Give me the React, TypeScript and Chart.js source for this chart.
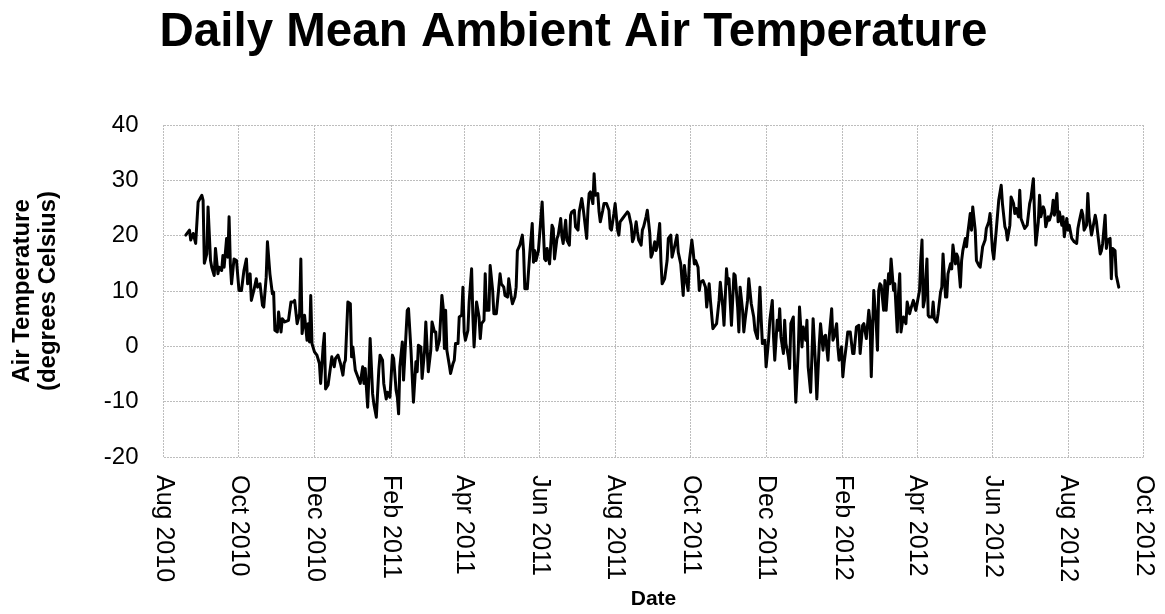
import React, { useEffect, useRef } from "react";
import { Chart, registerables } from "chart.js";

Chart.register(...registerables);

const chartTitle = "Daily Mean Ambient Air Temperature";
const yAxisTitle = ["Air Temperature", "(degrees Celsius)"];
const xAxisTitle = "Date";

// x axis: days since 2010-08-01
const axisStart = "2010-08-01";
const tickDates = [
  "2010-08-01", "2010-10-01", "2010-12-01", "2011-02-01", "2011-04-01", "2011-06-01", "2011-08-01",
  "2011-10-01", "2011-12-01", "2012-02-01", "2012-04-01", "2012-06-01", "2012-08-01", "2012-10-01",
];
const tickLabels = [
  "Aug 2010", "Oct 2010", "Dec 2010", "Feb 2011", "Apr 2011", "Jun 2011", "Aug 2011",
  "Oct 2011", "Dec 2011", "Feb 2012", "Apr 2012", "Jun 2012", "Aug 2012", "Oct 2012",
];
const yMin = -20;
const yMax = 40;
const yStep = 10;

// observations: day offset from 2010-08-01 and daily mean temperature (°C)
const daysA = [18,21,22,24,26,28,31,32,33,35,36,38,39,41,42,44,45,47,48,49,51,52,53,54,55,57,59,61,63,65,67,68,70,71,73,75,76,78,80,81,83,84,86,88,89,90,92,93,95,96,98,101,103,105];
const tempsA = [20.1,21.0,19.2,20.4,18.6,26.1,27.3,26.4,15.0,16.7,25.2,15.5,14.3,12.8,17.7,13.1,14.3,13.7,16.4,14.3,19.5,16.1,23.4,15.0,11.3,15.8,15.5,10.1,10.1,13.7,15.8,11.3,13.1,8.3,10.1,12.2,10.7,11.3,7.4,7.1,12.5,18.9,13.1,9.5,9.8,2.9,2.6,6.2,2.6,5.0,4.4,4.7,8.0,8.0];

const daysB = [106,108,110,111,112,114,116,117,118,119,120,122,124,126,127,129,130,131,133,135,136,138,139,141,143,145,146,147,149,151,152,153,155,157,159,161,162,163,165,166,167,169,170,172,174,175,177,178,180,181,183,185,186,188,189,190,191,193,194,197,198,200];
const tempsB = [8.3,4.1,5.9,15.8,2.3,5.6,1.1,4.1,0.8,9.2,0.5,-1.0,-1.6,-3.1,-6.7,-0.1,2.3,-7.7,-7.0,-3.7,-1.9,-3.7,-2.2,-1.6,-3.1,-5.2,-3.1,-2.5,8.0,7.7,-1.9,-0.1,-4.3,-5.5,-6.7,-3.7,-6.7,-4.0,-11.0,-5.5,1.4,-8.6,-10.4,-12.8,-4.3,-1.6,-2.5,-6.7,-9.5,-8.3,-9.2,-1.6,-2.2,-8.0,-9.2,-12.2,-3.7,0.8,-6.1,6.5,6.8,-0.7];

const daysC = [202,204,205,206,208,209,211,212,214,216,217,219,220,221,223,225,226,227,228,229,231,232,234,235,236,238,239,241,242,243,244,246,247,249,250,251,253,255,256,257,259,260,261,263,264,266,267,269,270,272,273,275,276,278,279,281,282,284,285,286,288,290,291,292,294];
const tempsC = [-10.1,-2.8,-4.6,0.2,-0.1,-5.8,-0.7,4.4,-4.6,-0.7,4.4,2.6,2.6,-0.7,1.1,9.2,7.1,-0.4,6.5,-0.7,-3.4,-4.9,-3.1,-2.5,0.5,0.5,5.3,5.6,10.7,2.6,1.1,2.9,8.0,14.0,5.6,-0.1,8.0,5.3,1.4,4.1,4.7,13.1,6.5,6.5,14.6,10.1,5.9,5.9,8.3,13.1,11.3,10.7,9.2,8.9,12.2,8.9,7.7,8.9,10.7,17.3,18.3,20.1,17.3,10.4,10.4];

const daysD = [296,298,299,300,301,303,306,308,309,310,312,314,315,316,318,319,321,322,323,325,326,328,329,330,332,333,335,336,338,339,340,342,343,344,345,347,348,349,351,352,353,355,356,358,360,361,362,364,365,367,368,369,371,373,375,376,378,379,380,382,383,384,386,387,388,390];
const tempsD = [16.7,22.2,15.2,17.3,15.5,17.3,26.1,15.8,15.5,17.7,14.9,21.9,21.3,15.8,19.5,20.1,23.1,19.8,18.6,22.8,19.2,18.3,23.7,24.3,24.6,21.6,21.0,24.3,26.7,25.2,23.4,19.5,24.6,27.6,27.9,25.8,31.2,27.3,27.6,24.3,22.5,24.6,25.8,25.8,24.6,21.3,21.0,24.0,25.8,21.0,20.1,22.5,23.1,23.7,24.3,24.0,21.9,18.9,19.5,22.5,20.7,19.2,18.3,21.0,21.6,23.4];

const daysE = [391,393,394,395,397,398,399,401,402,403,405,407,408,410,411,413,415,416,418,420,421,422,424,425,427,428,429,430,432,433,434,436,438,439,441,442,444,445,447,449,450,452,453,455,456,457,459,461,462,464,465,466,468,469,470,472,473,475,477,478,480,482,483,484];
const tempsE = [24.6,20.4,16.1,16.7,18.9,17.3,18.0,22.2,15.5,11.3,12.2,15.5,19.5,20.1,16.1,18.0,20.1,17.0,14.9,9.2,14.6,12.5,10.1,15.5,19.2,17.3,14.9,15.5,14.3,10.1,11.6,11.9,10.7,7.1,11.3,8.3,3.2,3.5,4.1,8.3,11.6,7.1,3.8,14.0,11.3,12.2,3.8,13.1,12.8,7.1,2.6,10.7,6.5,2.6,4.7,8.3,12.2,7.7,5.3,2.9,1.4,10.7,5.0,0.5];

const daysF = [486,487,489,490,492,493,494,496,497,498,499,501,502,503,505,506,507,509,510,511,513,514,515,516,517,519,520,521,523,524,525,527,528,529,530,531,533,534,535,537,538,540,541,542,544,545,546,548,549,550,552,553,555,557,558,560,562,563,565,566,568,570,571,572,574,576,577,578];
const tempsF = [1.1,-3.7,1.1,4.7,8.3,1.7,-2.5,4.7,2.9,6.8,1.7,-1.3,4.7,0.5,-1.9,-4.0,4.1,5.3,-3.7,-10.1,-0.7,7.1,3.5,-0.1,3.5,1.1,4.7,-3.7,-8.3,-1.9,5.0,-3.7,-9.5,-4.3,0.5,4.1,-0.7,1.7,2.0,-2.5,1.7,6.8,1.1,1.7,4.1,-0.1,-2.5,-0.1,-5.5,-3.1,0.5,2.6,2.6,-1.3,-1.3,3.5,3.8,-1.3,3.8,4.1,1.4,6.5,4.4,-5.5,10.1,4.1,-0.7,10.1];

const daysG = [579,580,582,583,584,586,587,588,590,591,593,594,595,596,597,598,600,601,603,604,606,608,609,611,612,613,614,615,617,618,619,621,622,623,625,626,628,629,630,632,633,634,636,637,638,640,641,642,644,645,646,648,649,650,652,653,654,656,657,659,660,662,664,665,667,668,670,671,673];
const tempsG = [11.3,11.0,6.5,11.9,6.5,13.1,11.3,15.8,10.1,11.3,2.6,9.5,13.1,2.6,4.1,5.3,4.1,8.0,5.9,6.8,8.3,6.5,7.7,10.1,15.5,19.2,7.1,8.3,15.8,5.6,5.3,5.3,8.0,5.0,4.4,5.9,9.8,10.7,16.7,8.9,8.9,13.1,14.9,14.0,18.3,14.9,16.7,16.1,10.7,15.5,17.3,19.5,18.0,20.4,24.0,21.0,25.2,21.0,15.5,14.6,14.3,18.0,19.2,21.3,22.5,24.0,17.3,15.8,21.0];

const daysH = [675,677,678,680,681,682,684,685,687,688,689,691,692,693,695,696,698,700,701,703,704,705,707,708,709,711,712,713,715,716,718,719,720,722,723,724,726,727,728,730,731,732,734,735,736,738,739,740,742,743,744,746,747,748,750,751,753,754,755,757,758,759,761,762,763,765,766,767,769,770,772];
const tempsH = [26.4,29.1,25.8,21.6,21.0,19.2,21.9,27.0,25.8,24.0,24.9,23.4,28.2,23.1,21.9,21.3,21.9,25.8,26.7,30.3,23.4,18.3,22.5,27.3,23.4,25.2,24.6,21.6,23.4,22.8,24.3,26.4,23.7,27.6,22.5,24.3,21.9,23.4,19.8,23.1,21.0,21.9,19.5,19.2,18.9,18.6,21.3,22.5,24.6,23.7,21.0,21.9,27.6,23.4,20.1,21.3,23.7,22.5,20.4,16.7,17.3,18.6,23.7,17.7,19.2,19.5,12.2,17.7,17.3,12.8,10.7];

const allDays = [...daysA, ...daysB, ...daysC, ...daysD, ...daysE, ...daysF, ...daysG, ...daysH];
const allTemps = [...tempsA, ...tempsB, ...tempsC, ...tempsD, ...tempsE, ...tempsF, ...tempsG, ...tempsH];

const FONT = "'Liberation Sans', Arial, Helvetica, sans-serif";
const GRID = "#bdbdbd";

function dayOffset(iso: string): number {
  const a = Date.parse(axisStart + "T00:00:00Z");
  const b = Date.parse(iso + "T00:00:00Z");
  return Math.round((b - a) / 86400000);
}

export default function App() {
  const ref = useRef<HTMLCanvasElement | null>(null);

  useEffect(() => {
    if (!ref.current) return;
    const tickDays = tickDates.map(dayOffset);
    const n = Math.min(allDays.length, allTemps.length);
    const points = [] as { x: number; y: number }[];
    for (let i = 0; i < n; i++) points.push({ x: allDays[i], y: allTemps[i] });

    const decor = {
      id: "decor",
      afterDraw(chart: any) {
        const { ctx, chartArea } = chart;
        const xs = chart.scales.x;
        ctx.save();
        // title
        ctx.fillStyle = "#000";
        ctx.font = `bold 47.5px ${FONT}`;
        ctx.textAlign = "center";
        ctx.textBaseline = "alphabetic";
        ctx.fillText(chartTitle, 573.5, 46);
        // rotated x tick labels (reading top to bottom)
        ctx.font = `25px ${FONT}`;
        ctx.textAlign = "left";
        ctx.textBaseline = "middle";
        tickDays.forEach((d, i) => {
          const x = xs.getPixelForValue(d);
          ctx.save();
          ctx.translate(x, chartArea.bottom + 18);
          ctx.rotate(Math.PI / 2);
          ctx.fillText(tickLabels[i], 0, 0);
          ctx.restore();
        });
        ctx.restore();
      },
    };

    const chart = new Chart(ref.current, {
      type: "line",
      data: {
        datasets: [
          {
            data: points,
            borderColor: "#000",
            borderWidth: 3,
            pointRadius: 0,
            tension: 0,
            fill: false,
            borderJoinStyle: "round",
            borderCapStyle: "round",
          },
        ],
      },
      options: {
        animation: false,
        responsive: false,
        events: [],
        layout: { padding: { top: 125, right: 21.5, left: 0, bottom: 0 } },
        plugins: {
          legend: { display: false },
          title: { display: false },
          tooltip: { enabled: false },
        },
        scales: {
          x: {
            type: "linear",
            min: 0,
            max: dayOffset(tickDates[tickDates.length - 1]),
            afterBuildTicks: (s: any) => {
              s.ticks = tickDays.map((v) => ({ value: v }));
            },
            ticks: { display: false },
            grid: { color: GRID, lineWidth: 1, drawTicks: false },
            border: { display: false, dash: [2, 1] },
            title: {
              display: true,
              text: xAxisTitle,
              color: "#000",
              font: { family: FONT, size: 21, weight: "bold", lineHeight: 1.2 },
              padding: { top: 0, bottom: 2 },
            },
            afterFit: (s: any) => {
              s.height = 614 - 457;
            },
          },
          y: {
            type: "linear",
            min: yMin,
            max: yMax,
            ticks: {
              stepSize: yStep,
              color: "#000",
              font: { family: FONT, size: 24 },
              padding: 25,
            },
            grid: { color: GRID, lineWidth: 1, drawTicks: false },
            border: { display: false, dash: [2, 1] },
            title: {
              display: true,
              text: yAxisTitle,
              color: "#000",
              font: { family: FONT, size: 24, weight: "bold", lineHeight: 1.1 },
              padding: { top: 9, bottom: 0 },
            },
            afterFit: (s: any) => {
              s.width = 163.5;
            },
          },
        },
      } as any,
      plugins: [decor],
    });
    return () => chart.destroy();
  }, []);

  return (
    <div style={{ position: "absolute", left: 0, top: 0, width: 1165, height: 614, background: "#fff" }}>
      <canvas ref={ref} width={1165} height={614} style={{ display: "block" }} />
    </div>
  );
}
